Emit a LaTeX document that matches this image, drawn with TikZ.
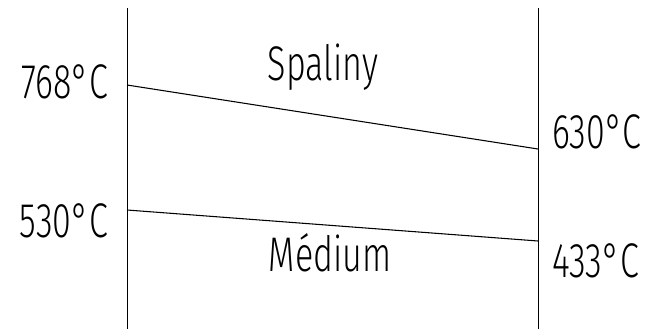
\documentclass[tikz,border=0pt]{standalone}
\usepackage{fontspec}
\setmainfont{Fira Sans Light}
\usepackage{tikz}
\usetikzlibrary{positioning}

\begin{document}
\begin{tikzpicture}[
        x=0.75pt, y=-0.75pt,
        wall/.style={line width=0.75pt, black},
        temp/.style={line width=0.8pt, black},
        lbl/.style={inner sep=0pt, font=\fontsize{36.5}{40}\selectfont, xscale=0.7},
      ]
        \useasboundingbox (0,0) rectangle (651,329);
        % walls of the exchanger
        \coordinate (lt) at (127,8);
        \coordinate (lb) at (127,329);
        \coordinate (rt) at (538,8);
        \coordinate (rb) at (538,329);
        \draw[wall] (lt) -- (lb);
        \draw[wall] (rt) -- (rb);
        % temperature profiles
        \coordinate (gin)  at (127,85);
        \coordinate (gout) at (538,149);
        \coordinate (min)  at (127,210);
        \coordinate (mout) at (538,241);
        \draw[temp] (gin) -- (gout);
        \draw[temp] (min) -- (mout);
        % labels
        \node[lbl, anchor=base east] (tgin)  at (108,98)  {768°C};
        \node[lbl, anchor=base west] (tgout) at (552,148) {630°C};
        \node[lbl, anchor=base east] (tmin)  at (108,237) {530°C};
        \node[lbl, anchor=base west] (tmout) at (552,277) {433°C};
        \node[lbl, anchor=base] (gas) at (323,80)  {Spaliny};
        \node[lbl, anchor=base] (med) at (330,271) {Médium};
      \end{tikzpicture}
\end{document}
